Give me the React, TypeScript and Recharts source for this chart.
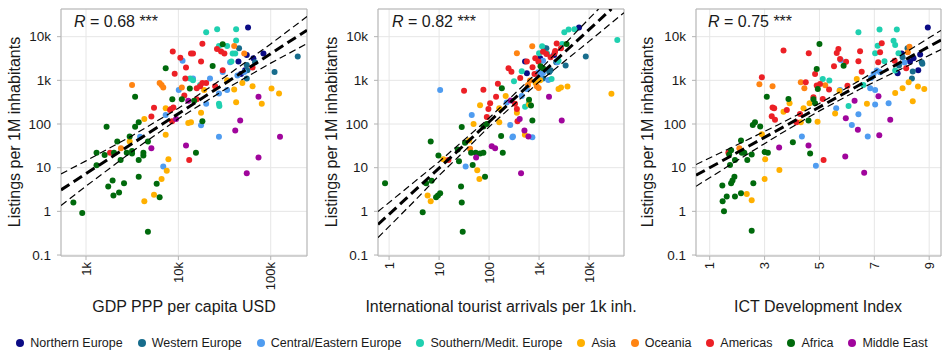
import {
  CartesianGrid,
  ReferenceArea,
  Scatter,
  ScatterChart,
  XAxis,
  YAxis,
} from "recharts";

type Region = "NE" | "WE" | "CE" | "SE" | "AS" | "OC" | "AM" | "AF" | "ME";
type Pt = [number, number, Region];

const REGIONS: Region[] = ["NE", "WE", "CE", "SE", "AS", "OC", "AM", "AF", "ME"];
const REGION_LABELS = [
  "Northern Europe", "Western Europe", "Central/Eastern Europe", "Southern/Medit. Europe",
  "Asia", "Oceania", "Americas", "Africa", "Middle East",
];
const REGION_COLORS = [
  "#0b0b85", "#176c8c", "#4f9cf0", "#1fd0b0", "#ffb000", "#ff8412", "#ec2026", "#006a0c", "#a0059c",
];

const Y_TICKS = [0.1, 1, 10, 100, 1000, 10000];
const Y_DOMAIN = [0.095, 43000];

// GDP PPP per capita USD vs listings
const gdpPoints: Pt[] = [
  [56800,16300,"NE"],[55000,3800,"NE"],[64900,3200,"NE"],[83400,4100,"NE"],[47600,1400,"NE"],[52700,1700,"NE"],[44700,2700,"NE"],
  [67600,2600,"WE"],[196000,3500,"WE"],[110000,1560,"WE"],[55000,1100,"WE"],[45400,5400,"WE"],[55000,2250,"WE"],[55900,1700,"WE"],
  [3850,51,"CE"],[6860,10.7,"CE"],[7290,160,"CE"],[10100,600,"CE"],[11100,2800,"CE"],[17600,94,"CE"],[20000,290,"CE"],[22000,1100,"CE"],
  [27500,500,"CE"],[27500,51,"CE"],[30200,1560,"CE"],[33700,600,"CE"],[36300,2600,"CE"],[51700,1560,"CE"],[43600,1290,"CE"],[14400,1100,"CE"],
  [20000,12600,"SE"],[26300,14800,"SE"],[42200,14800,"SE"],[42200,8200,"SE"],[27500,6100,"SE"],[33700,6100,"SE"],[38700,4100,"SE"],
  [41300,4100,"SE"],[37500,2700,"SE"],[13400,1100,"SE"],[14400,1000,"SE"],[17200,780,"SE"],[27800,260,"SE"],[27500,290,"SE"],
  [4280,130,"AS"],[4280,1.7,"AS"],[5450,2.4,"AS"],[6580,5.5,"AS"],[7290,57,"AS"],[7480,8.5,"AS"],[7800,15.5,"AS"],[7290,230,"AS"],
  [12800,105,"AS"],[13700,110,"AS"],[17600,180,"AS"],[19000,600,"AS"],[33700,1000,"AS"],[40200,620,"AS"],[42200,315,"AS"],
  [49300,870,"AS"],[63600,730,"AS"],[80000,290,"AS"],[102000,650,"AS"],[123000,500,"AS"],[2970,40,"AS"],
  [2390,28,"OC"],[3150,780,"OC"],[6270,870,"OC"],[6580,780,"OC"],[6860,690,"OC"],[10900,690,"OC"],[40200,6100,"OC"],[51700,4100,"OC"],
  [1820,22,"AM"],[5100,148,"AM"],[5450,235,"AM"],[8130,210,"AM"],[8330,220,"AM"],[8550,115,"AM"],[8830,240,"AM"],[8690,4600,"AM"],
  [9120,1420,"AM"],[10500,3300,"AM"],[11600,450,"AM"],[11900,1100,"AM"],[12100,1960,"AM"],[13100,15,"AM"],[13700,4100,"AM"],
  [14400,4100,"AM"],[15800,660,"AM"],[15800,370,"AM"],[17600,2700,"AM"],[18200,870,"AM"],[20000,870,"AM"],[18200,6900,"AM"],
  [25000,730,"AM"],[26200,5200,"AM"],[29000,4600,"AM"],[31500,4100,"AM"],[30200,1700,"AM"],[63600,1960,"AM"],[17200,730,"AM"],
  [730,1.6,"AF"],[910,0.92,"AF"],[1300,22,"AF"],[1300,11.3,"AF"],[1590,19.5,"AF"],[1670,86,"AF"],[1740,3.7,"AF"],[1940,5.1,"AF"],
  [1980,2.3,"AF"],[2010,22,"AF"],[2180,40,"AF"],[2280,2.7,"AF"],[2370,15,"AF"],[2580,4.4,"AF"],[2760,22,"AF"],[2970,52,"AF"],
  [3150,24,"AF"],[3150,21,"AF"],[3400,420,"AF"],[3400,86,"AF"],[3720,110,"AF"],[3720,15,"AF"],[3720,6.2,"AF"],[4180,22,"AF"],
  [4180,19,"AF"],[4680,40,"AF"],[4680,0.34,"AF"],[5820,4.3,"AF"],[6270,2.1,"AF"],[7290,1900,"AF"],[8600,370,"AF"],[10900,370,"AF"],
  [13300,650,"AF"],[14800,340,"AF"],[15500,22,"AF"],[18200,115,"AF"],[23500,2140,"AF"],[30200,6700,"AF"],
  [5100,28,"ME"],[9440,130,"ME"],[12100,32,"ME"],[12800,340,"ME"],[46700,120,"ME"],[41300,71,"ME"],[126000,51,"ME"],
  [73700,17,"ME"],[55000,7.5,"ME"],[73700,420,"ME"],
];
const gdpFit = [[536, 3.1], [247000, 14100]];
const gdpUpper = [[536, 7.2], [1000, 14.3], [3160, 54], [10000, 229], [31600, 1170], [100000, 6820], [247000, 28800]];
const gdpLower = [[536, 1.36], [1000, 3.77], [3160, 23.6], [10000, 132], [31600, 612], [100000, 2480], [247000, 6920]];

// international tourist arrivals per 1k inhabitants vs listings
const tourPoints: Pt[] = [
  [6300,16300,"NE"],[1270,5400,"NE"],[525,2700,"NE"],[570,1450,"NE"],[2000,3800,"NE"],[1050,3200,"NE"],[1600,1700,"NE"],
  [8600,3500,"WE"],[3400,2200,"WE"],[1600,1560,"WE"],[1200,1100,"WE"],[1400,5400,"WE"],[2200,2600,"WE"],[1700,1700,"WE"],
  [10.5,600,"CE"],[34,10.6,"CE"],[45,160,"CE"],[293,50,"CE"],[735,50,"CE"],[265,95,"CE"],[300,52,"CE"],[225,310,"CE"],
  [570,630,"CE"],[1200,2800,"CE"],[2330,2600,"CE"],[960,1530,"CE"],[1200,1480,"CE"],[1530,1020,"CE"],[1040,1170,"CE"],[450,440,"CE"],
  [3200,12600,"SE"],[3900,14500,"SE"],[5100,14800,"SE"],[36700,8400,"SE"],[2900,6800,"SE"],[1150,6000,"SE"],[1000,4150,"SE"],
  [1450,4100,"SE"],[2450,2800,"SE"],[1780,1080,"SE"],[315,950,"SE"],[450,1610,"SE"],[525,250,"SE"],[620,290,"SE"],
  [5.9,2.3,"AS"],[6.8,1.7,"AS"],[12.2,15.5,"AS"],[40,42,"AS"],[58,8.7,"AS"],[64,5.5,"AS"],[66,270,"AS"],[49,100,"AS"],
  [160,230,"AS"],[160,110,"AS"],[215,440,"AS"],[520,57,"AS"],[630,280,"AS"],[2450,630,"AS"],[2750,690,"AS"],[3700,720,"AS"],
  [28000,490,"AS"],[360,180,"AS"],[850,870,"AS"],[1050,1000,"AS"],
  [41.7,27,"OC"],[730,6000,"OC"],[360,4160,"OC"],[660,990,"OC"],[900,730,"OC"],[980,670,"OC"],[600,780,"OC"],
  [31.6,580,"AM"],[77,610,"AM"],[15.4,15,"AM"],[245,1890,"AM"],[280,1580,"AM"],[420,1130,"AM"],[150,830,"AM"],[138,420,"AM"],
  [105,300,"AM"],[97,220,"AM"],[90,145,"AM"],[370,115,"AM"],[330,290,"AM"],[360,220,"AM"],[2250,7000,"AM"],[2750,5400,"AM"],
  [1200,4500,"AM"],[1400,4000,"AM"],[2050,4200,"AM"],[1700,3400,"AM"],[840,3200,"AM"],[570,2700,"AM"],[970,2700,"AM"],
  [740,2000,"AM"],[810,1400,"AM"],[2100,4700,"AM"],
  [0.83,4.4,"AF"],[4.7,0.95,"AF"],[5.5,4.4,"AF"],[7.1,5,"AF"],[6.8,40,"AF"],[8.7,2.1,"AF"],[10.5,2.6,"AF"],[9.7,19,"AF"],
  [23.6,26,"AF"],[25,14,"AF"],[28.4,85,"AF"],[27.5,3.7,"AF"],[28.4,1.6,"AF"],[29.7,0.34,"AF"],[33,37,"AF"],[43.7,22,"AF"],
  [47,11.5,"AF"],[54,22,"AF"],[66,21,"AF"],[77,22,"AF"],[83,6.2,"AF"],[174,53,"AF"],[188,22,"AF"],[735,120,"AF"],[630,360,"AF"],
  [690,265,"AF"],[1070,2100,"AF"],[1200,1890,"AF"],[3550,6800,"AF"],[77,88,"AF"],[90,100,"AF"],[180,660,"AF"],[9.5,2.3,"AF"],
  [55,17,"ME"],[113,31,"ME"],[132,28,"ME"],[436,7.5,"ME"],[410,130,"ME"],[510,71,"ME"],[612,52,"ME"],[2840,120,"ME"],
  [1580,420,"ME"],[270,345,"ME"],
];
const tourFit = [[0.6, 0.5], [28000, 43000]];
const tourUpper = [[0.6, 0.99], [3.16, 4.67], [10, 13.7], [100, 137], [1000, 1675], [10000, 25800], [15500, 43000]];
const tourLower = [[0.6, 0.25], [3.16, 1.69], [10, 6.6], [100, 86], [1000, 920], [10000, 7800], [50000, 35500]];

// ICT Development Index vs listings
const ictPoints: Pt[] = [
  [8.95,16300,"NE"],[8.0,4100,"NE"],[8.43,3200,"NE"],[8.67,3900,"NE"],[7.85,1450,"NE"],[8.6,1700,"NE"],[8.3,2700,"NE"],
  [8.03,3400,"WE"],[8.21,5400,"WE"],[8.73,2600,"WE"],[8.4,1600,"WE"],[7.9,2200,"WE"],[8.37,1100,"WE"],[8.75,2400,"WE"],
  [4.36,52,"CE"],[4.87,11,"CE"],[5.78,2900,"CE"],[5.75,600,"CE"],[5.61,230,"CE"],[6.42,167,"CE"],[6.18,95,"CE"],[6.76,52,"CE"],
  [7.03,280,"CE"],[7.52,300,"CE"],[6.97,1400,"CE"],[7.09,1670,"CE"],[7.21,1530,"CE"],[6.88,1130,"CE"],[6.85,660,"CE"],
  [7.03,600,"CE"],[8.1,2570,"CE"],
  [6.42,12600,"SE"],[7.19,14500,"SE"],[7.82,14500,"SE"],[7.7,8100,"SE"],[7.76,6450,"SE"],[7.12,6200,"SE"],[7.03,4160,"SE"],
  [7.37,2730,"SE"],[5.12,1080,"SE"],[5.36,990,"SE"],[6.6,780,"SE"],[6.06,260,"SE"],[7.88,4160,"SE"],[7.76,1670,"SE"],
  [6.36,1080,"AS"],[8.25,900,"AS"],[8.03,660,"AS"],[8.59,720,"AS"],[8.82,630,"AS"],[7.76,510,"AS"],[8.4,330,"AS"],[6.73,290,"AS"],
  [5.73,580,"AS"],[4.42,230,"AS"],[3.91,300,"AS"],[3.69,190,"AS"],[4.32,110,"AS"],[4.93,113,"AS"],[5.57,175,"AS"],[4.64,300,"AS"],
  [2.9,58,"AS"],[3.0,5.5,"AS"],[3.02,15.5,"AS"],[3.54,8.8,"AS"],[2.35,2.5,"AS"],[2.53,1.8,"AS"],
  [8.28,5900,"OC"],[8.22,4400,"OC"],[2.81,810,"OC"],[3.29,730,"OC"],[4.32,900,"OC"],[4.45,660,"OC"],[5.21,770,"OC"],[2.08,28,"OC"],
  [3.69,4800,"AM"],[4.61,4160,"AM"],[2.9,1180,"AM"],[3.29,240,"AM"],[3.35,230,"AM"],[3.26,150,"AM"],[3.38,125,"AM"],[3.81,210,"AM"],
  [4.29,170,"AM"],[4.16,110,"AM"],[4.78,410,"AM"],[5.12,375,"AM"],[4.5,900,"AM"],[4.9,760,"AM"],[4.84,1400,"AM"],[5.35,620,"AM"],
  [5.69,5230,"AM"],[5.63,4240,"AM"],[5.75,3080,"AM"],[5.97,2680,"AM"],[5.53,2100,"AM"],[6.02,750,"AM"],[6.48,4620,"AM"],
  [6.42,2730,"AM"],[6.54,1580,"AM"],[7.27,7040,"AM"],[7.21,4380,"AM"],[7.14,2580,"AM"],[7.74,2820,"AM"],[8.16,1890,"AM"],
  [5.15,15,"AM"],[1.68,22,"AM"],[5.02,820,"AM"],
  [5.0,6800,"AF"],[4.9,1830,"AF"],[5.88,2170,"AF"],[4.94,630,"AF"],[4.78,370,"AF"],[4.84,300,"AF"],[3.87,375,"AF"],[3.08,420,"AF"],
  [4.6,120,"AF"],[4.03,38,"AF"],[4.66,21,"AF"],[2.57,95,"AF"],[2.65,110,"AF"],[2.84,88,"AF"],[3.0,23,"AF"],[3.12,22,"AF"],
  [1.46,3.9,"AF"],[1.47,1.7,"AF"],[1.52,1.0,"AF"],[1.62,2.2,"AF"],[1.71,20,"AF"],[1.74,11.5,"AF"],[1.78,25,"AF"],[1.78,4.4,"AF"],
  [1.83,5.1,"AF"],[1.9,6.2,"AF"],[1.92,2.2,"AF"],[1.92,15,"AF"],[2.14,42,"AF"],[2.17,22,"AF"],[2.14,2.6,"AF"],[2.26,22,"AF"],
  [2.37,15,"AF"],[2.53,20,"AF"],[2.59,4.4,"AF"],[2.53,0.36,"AF"],
  [3.53,29,"ME"],[4.6,32,"ME"],[5.94,18,"ME"],[6.63,7.7,"ME"],[6.4,74,"ME"],[7.18,55,"ME"],[7.58,125,"ME"],[6.28,340,"ME"],
  [5.96,135,"ME"],[7.15,430,"ME"],
];
const ictFit = [[0.5, 6.7], [9.43, 8400]];
const ictUpper = [[0.5, 11.8], [2, 33.4], [3.5, 96.6], [5, 296], [6.5, 1016], [8, 3870], [9.43, 13900]];
const ictLower = [[0.5, 3.74], [2, 14.6], [3.5, 55.6], [5, 200], [6.5, 641], [8, 1850], [9.43, 5060]];

const FONT = "'Liberation Sans', Arial, Helvetica, sans-serif";
const TEXT = "#1a1a1a";

const fmt = (v: number) => (v >= 1000 ? `${v / 1000}k` : String(v));

const XTick = (props: any) => {
  const { x, y, payload } = props;
  return (
    <text
      x={x}
      y={y}
      transform={`rotate(-90 ${x} ${y})`}
      textAnchor="end"
      dominantBaseline="central"
      fontSize={13}
      fontFamily={FONT}
      fill={TEXT}
    >
      {fmt(payload.value)}
    </text>
  );
};

interface PanelProps {
  left: number;
  width: number;
  marginRight: number;
  points: Pt[];
  fit: number[][];
  upper: number[][];
  lower: number[][];
  xDomain: number[];
  xTicks: number[];
  log: boolean;
}

const toXY = (arr: number[][]) => arr.map(([x, y]) => ({ x, y }));

function Panel(p: PanelProps) {
  return (
    <div style={{ position: "absolute", left: p.left, top: 0 }}>
      <ScatterChart
        width={p.width}
        height={300}
        margin={{ top: 9, right: p.marginRight, left: 16, bottom: 0 }}
      >
        <CartesianGrid stroke="#e6e6e6" strokeWidth={1} />
        <XAxis
          type="number"
          dataKey="x"
          scale={p.log ? "log" : "linear"}
          domain={p.xDomain}
          allowDataOverflow
          ticks={p.xTicks}
          interval={0}
          height={44}
          tickSize={4}
          tickLine={{ stroke: "#b3b3b3" }}
          axisLine={false}
          tick={<XTick />}
        />
        <YAxis
          type="number"
          dataKey="y"
          scale="log"
          domain={Y_DOMAIN}
          allowDataOverflow
          ticks={Y_TICKS}
          interval={0}
          width={45}
          tickSize={4}
          tickMargin={6}
          tickLine={{ stroke: "#b3b3b3" }}
          axisLine={false}
          tickFormatter={fmt}
          tick={{ fontSize: 13.5, fill: TEXT, fontFamily: FONT }}
        />
        <ReferenceArea
          x1={p.xDomain[0]}
          x2={p.xDomain[1]}
          y1={Y_DOMAIN[0]}
          y2={Y_DOMAIN[1]}
          fill="none"
          stroke="#b3b3b3"
          strokeWidth={1}
          ifOverflow="visible"
        />
        {REGIONS.map((r, i) => (
          <Scatter
            key={r}
            data={p.points.filter((d) => d[2] === r).map(([x, y]) => ({ x, y }))}
            isAnimationActive={false}
            shape={(s: any) => <circle cx={s.cx} cy={s.cy} r={3} fill={REGION_COLORS[i]} />}
          />
        ))}
        <Scatter
          data={toXY(p.upper)}
          isAnimationActive={false}
          line={{ stroke: "#000", strokeWidth: 1.2, strokeDasharray: "7 4" }}
          shape={() => <g />}
        />
        <Scatter
          data={toXY(p.lower)}
          isAnimationActive={false}
          line={{ stroke: "#000", strokeWidth: 1.2, strokeDasharray: "7 4" }}
          shape={() => <g />}
        />
        <Scatter
          data={toXY(p.fit)}
          isAnimationActive={false}
          line={{ stroke: "#000", strokeWidth: 3, strokeDasharray: "10 5" }}
          shape={() => <g />}
        />
      </ScatterChart>
    </div>
  );
}

const abs = (extra: React.CSSProperties): React.CSSProperties => ({
  position: "absolute",
  fontFamily: FONT,
  color: TEXT,
  whiteSpace: "nowrap",
  ...extra,
});

function YTitle({ cx }: { cx: number }) {
  return (
    <div style={abs({ left: cx, top: 132, fontSize: 16, transform: "translate(-50%, -50%) rotate(-90deg)" })}>
      Listings per 1M inhabitants
    </div>
  );
}

function XTitle({ cx, text }: { cx: number; text: string }) {
  return (
    <div style={abs({ left: cx, top: 307, fontSize: 16, transform: "translate(-50%, -50%)" })}>{text}</div>
  );
}

function RLabel({ left, r }: { left: number; r: string }) {
  return (
    <div style={abs({ left, top: 22, fontSize: 16, transform: "translateY(-50%)" })}>
      <i>R</i> = {r} ***
    </div>
  );
}

export default function App() {
  return (
    <div style={{ position: "absolute", left: 0, top: 0, width: 944, height: 355, overflow: "hidden", background: "#fff" }}>
      <Panel left={0} width={315} marginRight={8} points={gdpPoints} fit={gdpFit} upper={gdpUpper} lower={gdpLower}
        xDomain={[536, 247000]} xTicks={[1000, 10000, 100000]} log />
      <Panel left={317} width={315} marginRight={8} points={tourPoints} fit={tourFit} upper={tourUpper} lower={tourLower}
        xDomain={[0.6, 50000]} xTicks={[1, 10, 100, 1000, 10000]} log />
      <Panel left={635} width={309} marginRight={3} points={ictPoints} fit={ictFit} upper={ictUpper} lower={ictLower}
        xDomain={[0.5, 9.43]} xTicks={[1, 3, 5, 7, 9]} log={false} />

      <YTitle cx={15} />
      <YTitle cx={332} />
      <YTitle cx={648} />
      <XTitle cx={184} text="GDP PPP per capita USD" />
      <XTitle cx={501} text="International tourist arrivals per 1k inh." />
      <XTitle cx={818} text="ICT Development Index" />
      <RLabel left={74} r="0.68" />
      <RLabel left={392} r="0.82" />
      <RLabel left={708} r="0.75" />

      <div style={abs({ left: 0, top: 336, width: 944, display: "flex", justifyContent: "center", alignItems: "center", fontSize: 12.5 })}>
        {REGION_LABELS.map((label, i) => (
          <div key={label} style={{ display: "flex", alignItems: "center", marginRight: i < REGION_LABELS.length - 1 ? 15 : 0 }}>
            <span style={{ width: 8, height: 8, borderRadius: "50%", background: REGION_COLORS[i], marginRight: 6, display: "inline-block" }} />
            {label}
          </div>
        ))}
      </div>
    </div>
  );
}
